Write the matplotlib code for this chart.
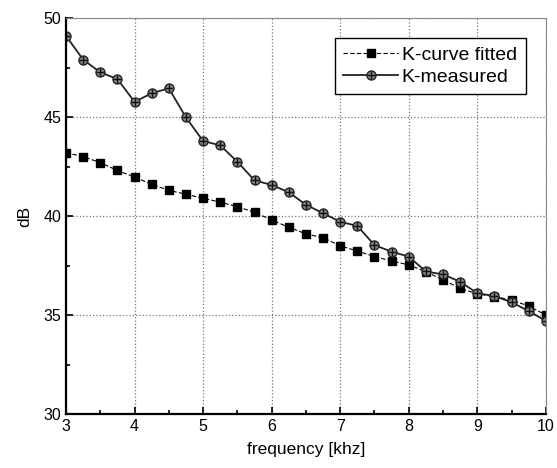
import matplotlib
matplotlib.use("Agg")
import matplotlib.pyplot as plt
from matplotlib.ticker import MultipleLocator
from matplotlib.legend_handler import HandlerTuple

plt.rcParams['font.family'] = ['Liberation Sans', 'DejaVu Sans']

freq = [3, 3.25, 3.5, 3.75, 4, 4.25, 4.5, 4.75, 5, 5.25, 5.5, 5.75, 6, 6.25,
        6.5, 6.75, 7, 7.25, 7.5, 7.75, 8, 8.25, 8.5, 8.75, 9, 9.25, 9.5, 9.75, 10]
fitted = [43.2, 43.0, 42.7, 42.3, 41.97, 41.6, 41.3, 41.1, 40.9, 40.7, 40.47,
          40.19, 39.8, 39.43, 39.1, 38.9, 38.5, 38.23, 37.95, 37.73, 37.53,
          37.19, 36.77, 36.35, 36.06, 35.93, 35.76, 35.45, 35.0]
measured = [49.1, 47.9, 47.26, 46.92, 45.77, 46.2, 46.45, 44.98, 43.79, 43.57,
            42.74, 41.8, 41.57, 41.2, 40.57, 40.14, 39.71, 39.5, 38.53, 38.2,
            37.95, 37.2, 37.05, 36.68, 36.1, 35.96, 35.64, 35.2, 34.7]

fig = plt.figure(figsize=(5.57, 4.68), dpi=100)
ax = fig.add_axes([0.1185, 0.1154, 0.8615, 0.846])

l1, = ax.plot(freq, fitted, color='black', linestyle=(0, (4, 2)), linewidth=0.8,
              marker='s', markersize=6, markerfacecolor='black', markeredgecolor='black')
l2, = ax.plot(freq, measured, color='#222222', linestyle='-', linewidth=1.3,
              marker='o', markersize=6.5, markerfacecolor='#888888', markeredgecolor='#222222')
l3, = ax.plot(freq, measured, linestyle='none', marker='+', markersize=6,
              markeredgecolor='#111111', markeredgewidth=1.0)

ax.set_xlim(3, 10)
ax.set_ylim(30, 50)
ax.xaxis.set_major_locator(MultipleLocator(1))
ax.xaxis.set_minor_locator(MultipleLocator(0.5))
ax.yaxis.set_major_locator(MultipleLocator(5))
ax.yaxis.set_minor_locator(MultipleLocator(2.5))
ax.tick_params(which='both', direction='in', top=False, right=False, width=1.2)
ax.tick_params(which='major', length=5, labelsize=11.5)
ax.tick_params(which='minor', length=3)
ax.grid(True, which='major', color='#777777', linestyle=':', linewidth=0.9)
for s in ['left', 'bottom']:
    ax.spines[s].set_linewidth(1.6)
for s in ['top', 'right']:
    ax.spines[s].set_color('#888888')
    ax.spines[s].set_linewidth(0.8)

ax.set_xlabel("frequency [khz]", fontsize=12.5, labelpad=6)
ax.set_ylabel("dB", fontsize=12.5, labelpad=8)

leg = ax.legend([l1, (l2, l3)], ["K-curve fitted", "K-measured"],
                handler_map={tuple: HandlerTuple(ndivide=1)},
                loc='upper right', bbox_to_anchor=(0.982, 0.98), fontsize=14,
                fancybox=False, edgecolor='black', framealpha=1,
                handlelength=2.8, handletextpad=0.2, borderpad=0.45,
                borderaxespad=0.6, labelspacing=0.2)
leg.get_frame().set_linewidth(1.0)

fig.savefig("out.png", dpi=100)
